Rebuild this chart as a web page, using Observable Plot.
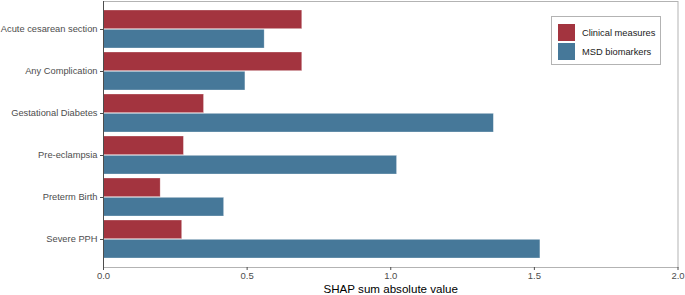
<!DOCTYPE html>
<html>
<head>
<meta charset="utf-8">
<script src="https://cdn.jsdelivr.net/npm/d3@7"></script>
<script src="https://cdn.jsdelivr.net/npm/@observablehq/plot@0.6"></script>
<style>
  body { margin: 0; background: #fff; font-family: "Liberation Sans", Arial, sans-serif; }
  #chart { position: relative; width: 685px; height: 295px; }
  .legend { position: absolute; left: 551px; top: 16px; width: 110px; height: 49px;
            border: 1px solid #b3b3b3; background: #fff; box-sizing: border-box;
            padding: 6px 0 0 6px; }
  .legend .item { display: flex; align-items: center; height: 19px; font-size: 9.3px; color: #1a1a1a; }
  .legend .sw { width: 17px; height: 17px; margin-right: 7px; }
</style>
</head>
<body>
<div id="chart"></div>
<script>
const categories = ["Acute cesarean section", "Any Complication", "Gestational Diabetes", "Pre-eclampsia", "Preterm Birth", "Severe PPH"];
const clinical = [0.692, 0.692, 0.350, 0.280, 0.199, 0.274];
const msd = [0.561, 0.494, 1.359, 1.022, 0.420, 1.521];
const series = ["Clinical measures", "MSD biomarkers"];
const colors = ["#A3343F", "#467899"];
const xTicks = [0, 0.5, 1.0, 1.5, 2.0];

const rows = [];
categories.forEach((c, i) => {
  rows.push({category: c, series: series[0], value: clinical[i]});
  rows.push({category: c, series: series[1], value: msd[i]});
});

const W = 685, H = 295, mT = 1, mB = 28, mL = 103, mR = 7.5;
const step = (H - mT - mB) / (categories.length - 0.1 + 0.3);
const half = step * 0.9 / 2;

const plot = Plot.plot({
  width: W, height: H,
  marginTop: mT, marginBottom: mB, marginLeft: mL, marginRight: mR,
  style: {fontFamily: '"Liberation Sans", Arial, sans-serif', background: "#fff"},
  x: {domain: [0, 2]},
  y: {domain: categories, paddingInner: 0.1, paddingOuter: 0.15},
  color: {domain: series, range: colors},
  marks: [
    Plot.barX(rows.filter(d => d.series === series[0]), {
      x: "value", y: "category", fill: "series", insetBottom: half,
      stroke: "#fff", strokeOpacity: 0.5, strokeWidth: 0.6
    }),
    Plot.barX(rows.filter(d => d.series === series[1]), {
      x: "value", y: "category", fill: "series", insetTop: half,
      stroke: "#fff", strokeOpacity: 0.5, strokeWidth: 0.6
    }),
    Plot.frame({stroke: "#b3b3b3"}),
    Plot.ruleX([0], {stroke: "#4d4d4d"}),
    Plot.axisY({tickSize: 3, tickPadding: 3, fontSize: 9.3, color: "#4d4d4d", label: null}),
    Plot.axisX({ticks: xTicks, tickFormat: d3.format(".1f"), tickSize: 3, tickPadding: 2,
      fontSize: 9.5, color: "#4d4d4d", label: null}),
    Plot.axisX({ticks: [], label: "SHAP sum absolute value", labelAnchor: "center",
      labelArrow: "none", labelOffset: 25.5, fontSize: 11.6, color: "#000"})
  ]
});

const chart = document.getElementById("chart");
chart.appendChild(plot);

const legend = document.createElement("div");
legend.className = "legend";
series.forEach((s, i) => {
  const item = document.createElement("div");
  item.className = "item";
  const sw = document.createElement("div");
  sw.className = "sw";
  sw.style.background = colors[i];
  const label = document.createElement("span");
  label.textContent = s;
  item.appendChild(sw);
  item.appendChild(label);
  legend.appendChild(item);
});
chart.appendChild(legend);
</script>
</body>
</html>
